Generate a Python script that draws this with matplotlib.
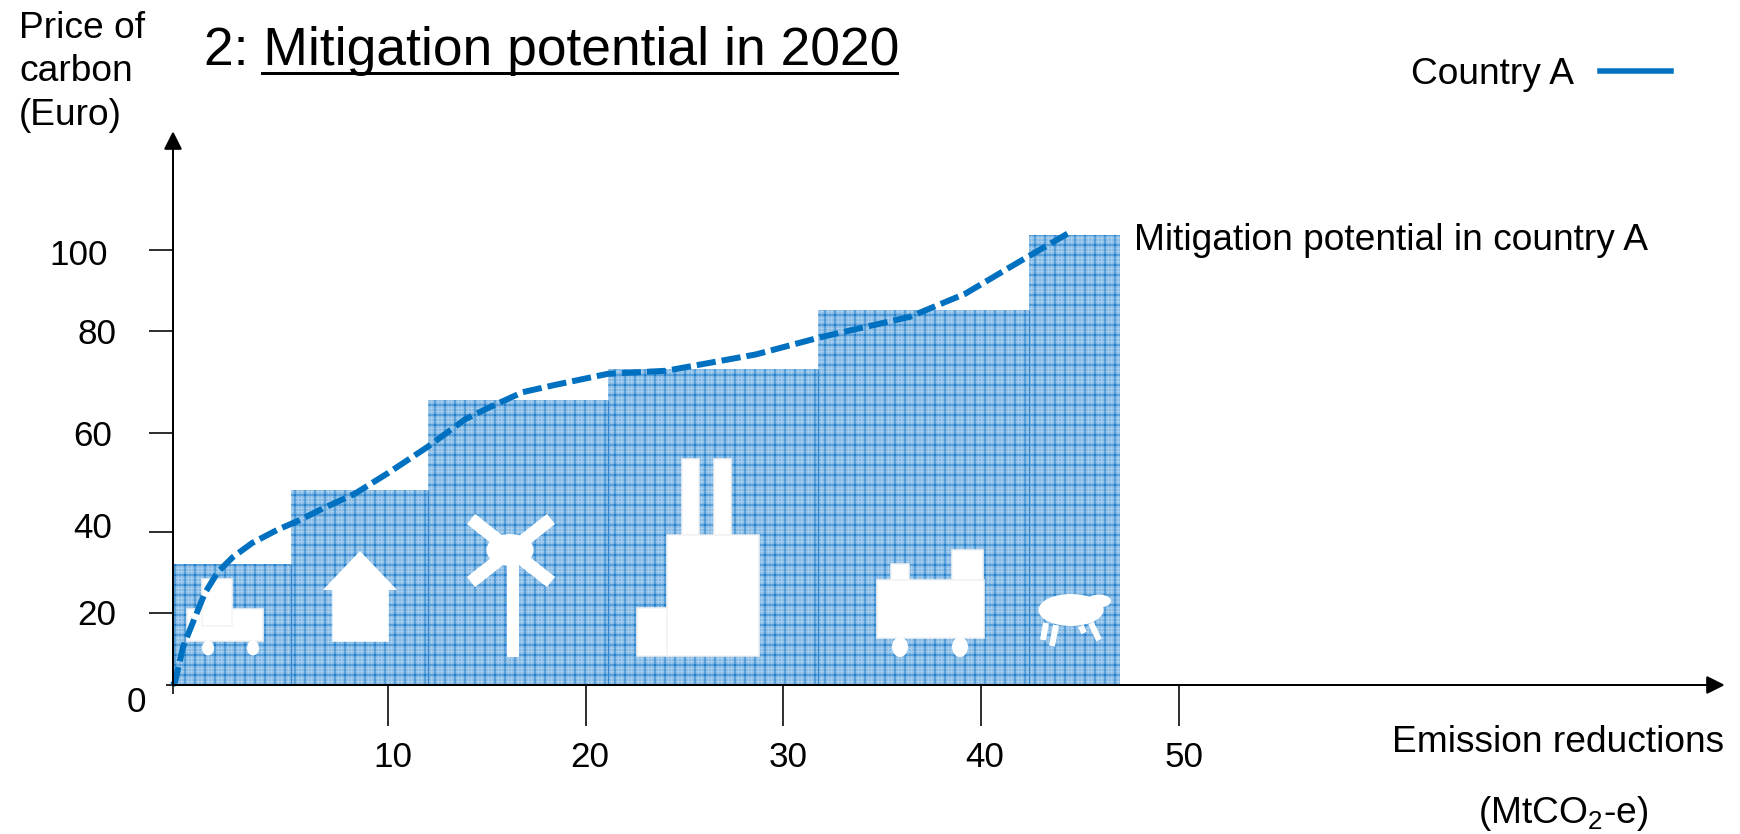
import numpy as np
import matplotlib
matplotlib.use('Agg')
import matplotlib.pyplot as plt
from matplotlib.lines import Line2D
from matplotlib.patches import Ellipse, Polygon, Rectangle
from matplotlib.transforms import Affine2D, ScaledTranslation

# abatement blocks: left edges, widths and carbon price of each
block_edges = [0, 5.5, 12.0, 21.1, 31.75, 42.4, 47.0]
block_prices = [32, 48.4, 66.4, 72.5, 85.2, 103.7]

# mitigation potential curve
curve_x = [0, 0.12, 0.49, 0.9, 1.5, 2.1, 2.8, 3.7, 4.85, 5.9, 7.0, 8.45, 10.0,
           12.0, 13.9, 15.05, 16.8, 18.4, 21.1, 24.05, 28.6, 31.9, 36.4, 39.2, 42.0, 44.5]
curve_y = [0, 0.8, 10.6, 16.7, 24.9, 30.1, 33.8, 37.3, 40.4, 42.4, 44.8, 47.7, 51.9,
           57.2, 62.7, 64.9, 68.0, 69.4, 71.6, 72.2, 75.4, 78.8, 83.5, 89.2, 97.3, 104.4]

x_ticks = [10, 20, 30, 40, 50]
y_ticks = [20, 40, 60, 80, 100]

# the axes are hand spaced, so the scales are piecewise linear
x_stops = [0, 10, 20, 30, 40, 50, 77.07]
x_stop_pos = [0, 215.5, 413.5, 610.9, 808.5, 1006.5, 1542.5]
y_stops = [0, 20, 40, 60, 80, 100, 126.9]
y_stop_pos = [0, 72, 153, 252, 354, 435, 544]

W, H = 1740, 834
DPI = 120
BLUE = '#0070C0'

plt.rcParams['font.family'] = ['Liberation Sans', 'DejaVu Sans']
plt.rcParams['mathtext.default'] = 'regular'
plt.rcParams['font.size'] = 22.3


def pts(px):
    return px * 72 / DPI


def draw_rect(ax, tr, x0, y0, x1, y1, edge='#f2f2f2', zorder=3):
    ax.add_patch(Rectangle((x0, y0), x1 - x0, y1 - y0, fc='white', ec=edge,
                           lw=pts(1.5), transform=tr, clip_on=False, zorder=zorder))


def draw_oval(ax, tr, cx, cy, w, h, zorder=3):
    ax.add_patch(Ellipse((cx, cy), w, h, fc='white', ec='none', transform=tr,
                         clip_on=False, zorder=zorder))


def draw_bar(ax, tr, x0, y0, x1, y1, width):
    ax.add_line(Line2D([x0, x1], [y0, y1], color='white', lw=pts(width),
                       solid_capstyle='butt', transform=tr, zorder=3))


def draw_icons(ax, tr):
    # truck
    draw_rect(ax, tr, 187, 609, 263, 641)
    draw_rect(ax, tr, 202, 579, 232, 626)
    draw_oval(ax, tr, 208, 648, 12, 15)
    draw_oval(ax, tr, 253, 648, 12, 15)
    # house
    draw_rect(ax, tr, 333, 590, 388, 641, edge='white')
    ax.add_patch(Polygon([(323, 590), (360, 551), (397, 590)], fc='white', ec='none',
                         transform=tr, zorder=3))
    # wind turbine
    draw_bar(ax, tr, 471, 519, 551, 582, 13)
    draw_bar(ax, tr, 551, 519, 471, 582, 13)
    draw_bar(ax, tr, 513, 560, 513, 657, 12)
    draw_oval(ax, tr, 510, 550, 47, 32)
    # factory
    draw_rect(ax, tr, 682, 459, 699, 535)
    draw_rect(ax, tr, 714, 459, 731, 535)
    draw_rect(ax, tr, 637, 608, 667, 656)
    draw_rect(ax, tr, 667, 535, 759, 656)
    # train
    draw_rect(ax, tr, 891, 564, 909, 580)
    draw_rect(ax, tr, 952, 550, 983, 580)
    draw_rect(ax, tr, 877, 580, 984, 638)
    draw_oval(ax, tr, 900, 647, 16, 20)
    draw_oval(ax, tr, 960, 647, 16, 20)
    # sheep
    for leg in [(1046, 623, 1043, 640), (1056, 625, 1052, 646),
                (1081, 626, 1084, 633), (1091, 623, 1099, 640)]:
        draw_bar(ax, tr, *leg, 6)
    draw_oval(ax, tr, 1071, 610, 65, 32)
    draw_oval(ax, tr, 1099, 601, 24, 13)


fig = plt.figure(figsize=(W / DPI, H / DPI), dpi=DPI)
ax = fig.add_axes([172.5 / W, 1 - 685 / H, 1542.5 / W, 544 / H])
ax.patch.set_visible(False)

ax.set_xscale('function', functions=(lambda v: np.interp(v, x_stops, x_stop_pos),
                                     lambda p: np.interp(p, x_stop_pos, x_stops)))
ax.set_yscale('function', functions=(lambda v: np.interp(v, y_stops, y_stop_pos),
                                     lambda p: np.interp(p, y_stop_pos, y_stops)))
ax.set_xlim(x_stops[0], x_stops[-1])
ax.set_ylim(y_stops[0], y_stops[-1])

# pixel coordinates, origin top left, for the annotation layer
px = Affine2D().scale(1 / W, -1 / H).translate(0, 1) + fig.transFigure

lefts = np.array(block_edges[:-1])
widths = np.diff(block_edges)

# two stacked hatches: a fine dither under a coarser grid
plt.rcParams['hatch.linewidth'] = pts(1.4)
ax.bar(lefts, block_prices, widths, align='edge', facecolor='#7DB4E2',
       edgecolor='#A4CCEC', linewidth=0, hatch='++++++', zorder=1)
plt.rcParams['hatch.linewidth'] = pts(1.1)
ax.bar(lefts, block_prices, widths, align='edge', facecolor='none',
       edgecolor='#1F7FCC', linewidth=0, hatch='++', zorder=2)

# seams between neighbouring blocks
ax.vlines(block_edges[1:-1], 0, block_prices[:-1], color='#2F86CE', lw=pts(1.2), zorder=2)

draw_icons(ax, px)

ax.plot(curve_x, curve_y, color=BLUE, lw=pts(6), ls=(0, (3.2, 1.0)),
        dash_capstyle='butt', clip_on=False, zorder=4)

for side in ['top', 'right']:
    ax.spines[side].set_visible(False)
for side in ['left', 'bottom']:
    ax.spines[side].set_linewidth(pts(2))
    ax.spines[side].set_zorder(5)

ax.plot(1, 0, marker='>', ms=pts(16), color='black', transform=ax.transAxes, clip_on=False)
ax.plot(0, 1, marker='^', ms=pts(16), color='black', transform=ax.transAxes, clip_on=False)

ax.set_xticks([0] + x_ticks, ['', '10', '20', '30', '40', '50'])
ax.set_yticks([0] + y_ticks, ['', '20', '40', '60', '80', '100'])
ax.minorticks_off()
ax.tick_params(axis='x', length=pts(41), width=pts(1.6), pad=pts(15), labelsize=21)
ax.tick_params(axis='y', length=pts(24), width=pts(1.6), pad=pts(36), labelsize=21)
ax.xaxis.get_major_ticks()[0].tick1line.set_markersize(pts(9))
ax.yaxis.get_major_ticks()[0].tick1line.set_markersize(pts(7))

# the labels sit a little off their ticks
x_nudge = [0, 5, 4, 5, 4, 5]
y_nudge = [(0, 0), (4, -1), (0, -7), (0, 0), (4, 0), (-5, 2)]
for tick, dx in zip(ax.xaxis.get_major_ticks(), x_nudge):
    tick.label1.set_transform(tick.label1.get_transform()
                              + ScaledTranslation(dx / DPI, 0, fig.dpi_scale_trans))
for tick, (dx, dy) in zip(ax.yaxis.get_major_ticks(), y_nudge):
    tick.label1.set_transform(tick.label1.get_transform()
                              + ScaledTranslation(dx / DPI, -dy / DPI, fig.dpi_scale_trans))

fig.text(136, 703, '0', transform=px, ha='center', va='center', fontsize=21)
fig.text(19, 125, 'Price of\ncarbon\n(Euro)', transform=px, ha='left', va='baseline',
         linespacing=1.32)
fig.text(1392, 743, 'Emission reductions', transform=px, ha='left', va='center')
fig.text(1478, 814, '(MtCO$_2$-e)', transform=px, ha='left', va='center')
fig.text(1134, 240, 'Mitigation potential in country A', transform=px, ha='left', va='center')

fig.text(204, 65, '2: Mitigation potential in 2020', transform=px, ha='left', va='baseline',
         fontsize=32)
fig.add_artist(Line2D([262, 897], [73, 73], color='black', lw=pts(3), transform=px))

# country key, text in front of the line
handle = Line2D([], [], color=BLUE, lw=pts(5.5))
ax.legend([handle], ['Country A'], frameon=False, markerfirst=False, handlelength=1.9,
          handletextpad=0.7, borderpad=0, borderaxespad=0, loc='center right',
          bbox_to_anchor=(1671 / W, 1 - 75 / H), bbox_transform=fig.transFigure)

fig.savefig('out.png', dpi=DPI)
